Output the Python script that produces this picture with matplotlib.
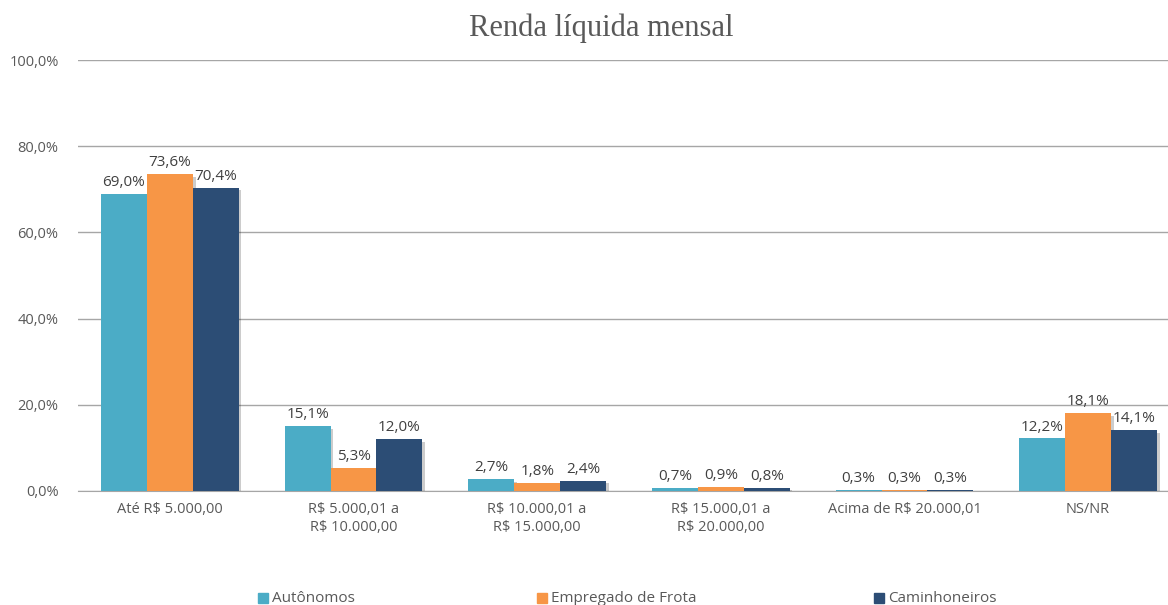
import matplotlib
matplotlib.use("Agg")
import matplotlib.pyplot as plt
import matplotlib.patheffects as pe
import numpy as np

categories = ["Até R$ 5.000,00", "R$ 5.000,01 a\nR$ 10.000,00", "R$ 10.000,01 a\nR$ 15.000,00",
              "R$ 15.000,01 a\nR$ 20.000,00", "Acima de R$ 20.000,01", "NS/NR"]
series_names = ["Autônomos", "Empregado de Frota", "Caminhoneiros"]
autonomos = [69.0, 15.1, 2.7, 0.7, 0.3, 12.2]
empregado = [73.6, 5.3, 1.8, 0.9, 0.3, 18.1]
caminhoneiros = [70.4, 12.0, 2.4, 0.8, 0.3, 14.1]
colors = ["#4BACC6", "#F79646", "#2C4D75"]
yticks = [0, 20, 40, 60, 80, 100]

W, H = 1168, 605
fig = plt.figure(figsize=(W/100, H/100), dpi=100)
left, right = 78, 1180
bottom, top = 491, 60
ax = fig.add_axes([left/W, 1-bottom/H, (right-left)/W, (bottom-top)/H])
ax.set_xlim(-0.5, len(categories)-0.5)
ax.set_ylim(0, 100)

fontfam = ["Open Sans", "DejaVu Sans"]
txtc = "#595959"
x = np.arange(len(categories))
bw = 0.25
shadow = [pe.SimplePatchShadow(offset=(2, -2), shadow_rgbFace="#000000", alpha=0.2), pe.Normal()]
for i, (vals, c) in enumerate(zip([autonomos, empregado, caminhoneiros], colors)):
    bars = ax.bar(x + (i-1)*bw, vals, bw, color=c, label=series_names[i], zorder=3)
    for b in bars:
        b.set_path_effects(shadow)
    for xi, v in zip(x + (i-1)*bw, vals):
        ax.text(xi, v + 0.9, f"{v:.1f}%".replace(".", ","), ha="center", va="bottom",
                fontsize=11, color="#404040", family=fontfam, zorder=4)

ax.set_yticks(yticks)
ax.set_yticklabels([f"{t:.1f}%".replace(".", ",") for t in yticks], fontsize=10.5, color=txtc, family=fontfam)
ax.set_xticks(x)
ax.set_xticklabels(categories, fontsize=10.5, color=txtc, family=fontfam, linespacing=1.3)
ax.tick_params(length=0, pad=8)
ax.tick_params(axis="y", pad=14)
ax.grid(axis="y", color="#A6A6A6", linewidth=1, zorder=0)
for s in ["top", "right", "left"]:
    ax.spines[s].set_visible(False)
ax.spines["bottom"].set_color("#A6A6A6")
ax.set_axisbelow(True)

fig.text(601/W, 1-28/H, "Renda líquida mensal", ha="center", va="center", fontsize=22,
         color=txtc, family=["Liberation Serif", "DejaVu Serif"])

leg_x = [258, 537, 874]
for hx, lab, c in zip(leg_x, series_names, colors):
    fig.patches.append(plt.Rectangle((hx/W, 1-603/H), 10/W, 10/H, transform=fig.transFigure,
                                     color=c, figure=fig))
    fig.text((hx+14)/W, 1-598/H, lab, ha="left", va="center", fontsize=11, color=txtc, family=fontfam)

fig.savefig("out.png", dpi=100, facecolor="white")
